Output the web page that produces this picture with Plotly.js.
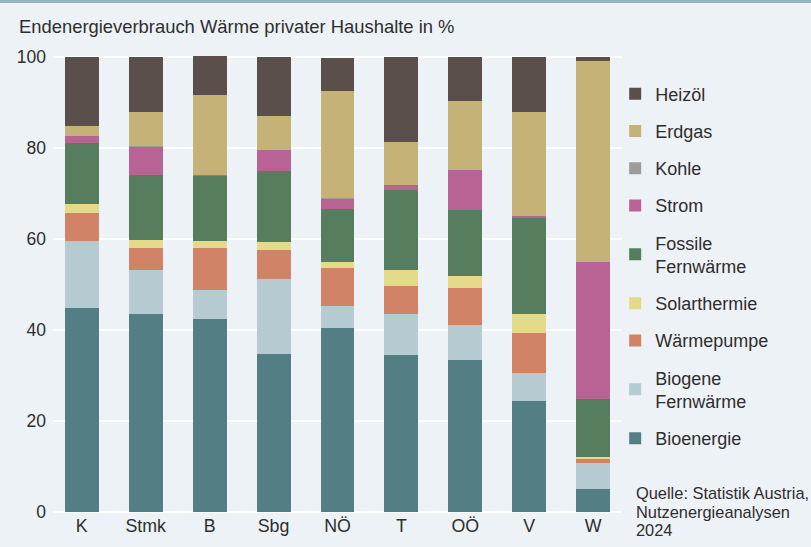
<!DOCTYPE html>
<html>
<head>
<meta charset="utf-8">
<script src="https://cdn.plot.ly/plotly-3.0.1.min.js"></script>
<style>
html,body{margin:0;padding:0;background:#edf2f6;}
#chart{width:811px;height:547px;}
</style>
</head>
<body>
<div id="chart"></div>
<script>
const regions = ["K", "Stmk", "B", "Sbg", "NÖ", "T", "OÖ", "V", "W"];

const bioenergie   = [44.9, 43.4, 42.3, 34.8, 40.5, 34.4, 33.3, 24.4, 5.0];
const biogeneFW    = [14.6,  9.7,  6.4, 16.4,  4.7,  9.0,  7.7,  6.2, 5.6];
const waermepumpe  = [ 6.2,  5.0,  9.4,  6.3,  8.4,  6.2,  8.3,  8.8, 1.0];
const solarthermie = [ 2.1,  1.7,  1.4,  1.8,  1.3,  3.5,  2.5,  4.0, 0.4];
const fossileFW    = [13.3, 14.3, 14.4, 15.6, 11.7, 17.6, 14.7, 21.2, 12.9];
const strom        = [ 1.5,  6.1,  0.2,  4.7,  2.2,  1.1,  8.8,  0.4, 30.0];
const kohle        = [ 0.0,  0.2,  0.0,  0.0,  0.3,  0.0,  0.0,  0.0, 0.0];
const erdgas       = [ 2.4,  7.5, 17.7,  7.4, 23.4,  9.5, 15.2, 22.9, 44.2];
const heizoel      = [15.0, 12.1,  8.4, 13.0,  7.3, 18.7,  9.5, 12.1, 0.9];

const seriesNames = ["Bioenergie", "Biogene<br>Fernwärme", "Wärmepumpe", "Solarthermie",
  "Fossile<br>Fernwärme", "Strom", "Kohle", "Erdgas", "Heizöl"];
const seriesValues = [bioenergie, biogeneFW, waermepumpe, solarthermie, fossileFW, strom, kohle, erdgas, heizoel];
const seriesColors = ["#527e84", "#b6cad1", "#d08366", "#e5da8a", "#567d5e", "#b86393", "#9c9c9c", "#c4b276", "#5b4f4b"];

const yTicks = [0, 20, 40, 60, 80, 100];

const FONT = "'Liberation Sans', Arial, Helvetica, sans-serif";
const TXT = "#2e2e2e";

const traces = seriesNames.map((n, i) => ({
  type: "bar",
  name: n,
  x: regions,
  y: seriesValues[i],
  legendgroup: "g" + i,
  legendrank: seriesNames.length - i,
  marker: {color: seriesColors[i], line: {width: 0}},
  hoverinfo: "x+y+name"
}));

const layout = {
  width: 811, height: 547,
  paper_bgcolor: "#edf2f6",
  plot_bgcolor: "#edf2f6",
  margin: {l: 53, r: 189, t: 56, b: 34},
  barmode: "stack",
  bargap: 0.469,
  font: {family: FONT, color: TXT, size: 17},
  title: {
    text: "Endenergieverbrauch Wärme privater Haushalte in %",
    x: 19/811, xref: "container", xanchor: "left",
    y: 1 - 27/547, yref: "container", yanchor: "middle",
    font: {family: FONT, size: 18.4, color: TXT}
  },
  xaxis: {
    type: "category",
    range: [-0.45, 8.45],
    showgrid: false, zeroline: false, showline: false,
    ticks: "", tickfont: {size: 17.8, color: TXT}
  },
  yaxis: {
    range: [-0.3, 100.3],
    tickvals: yTicks,
    ticktext: yTicks.map(String),
    showgrid: true, gridcolor: "#ffffff", gridwidth: 2,
    zeroline: false, showline: false,
    ticks: "", ticklabelstandoff: 6,
    tickfont: {size: 17.5, color: TXT}
  },
  legend: {
    x: 0.988, xanchor: "left",
    y: 0.957, yanchor: "top",
    traceorder: "grouped",
    tracegroupgap: 10.8,
    font: {size: 18, color: TXT},
    bgcolor: "rgba(0,0,0,0)",
    itemclick: false
  },
  shapes: [
    {type: "rect", xref: "paper", yref: "paper", x0: -0.2, x1: 1.4, y0: 1 + 53/457, y1: 1 + 60/457,
     fillcolor: "#9ab4bb", line: {width: 0}, layer: "above"}
  ],
  annotations: [
    {text: "Quelle: Statistik Austria,", xref: "paper", yref: "paper", x: (634-53)/569, y: (513-493)/457, xanchor: "left", yanchor: "middle", showarrow: false, font: {size: 16.4, color: TXT}},
    {text: "Nutzenergieanalysen", xref: "paper", yref: "paper", x: (634-53)/569, y: (513-512)/457, xanchor: "left", yanchor: "middle", showarrow: false, font: {size: 16.4, color: TXT}},
    {text: "2024", xref: "paper", yref: "paper", x: (634-53)/569, y: (513-530)/457, xanchor: "left", yanchor: "middle", showarrow: false, font: {size: 16.4, color: TXT}}
  ]
};

Plotly.newPlot("chart", traces, layout, {displayModeBar: false, staticPlot: true});
</script>
</body>
</html>
